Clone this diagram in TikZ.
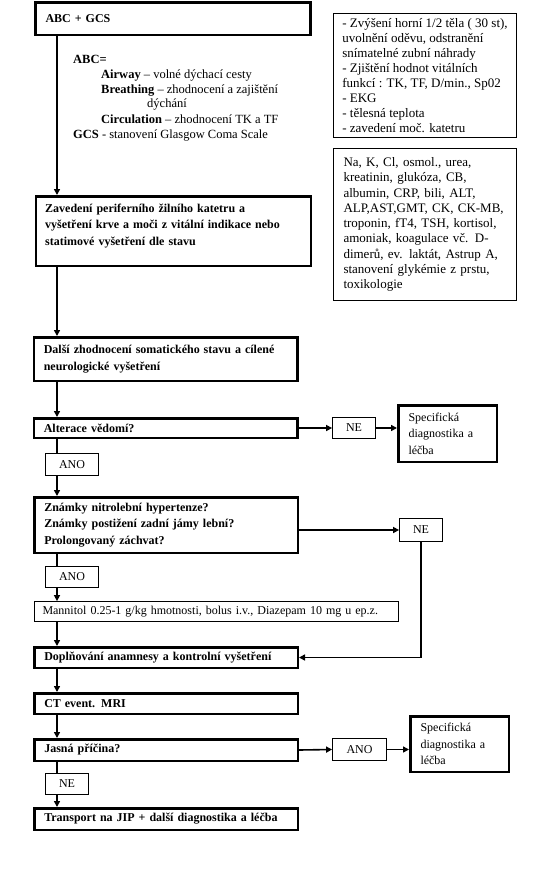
\documentclass[tikz,border=0pt]{standalone}
\usepackage{fontspec}
\setmainfont{Liberation Serif}
\usetikzlibrary{arrows.meta}
\begin{document}
\begin{tikzpicture}[x=1pt,y=-1pt,
  conn/.style={line width=1.6pt},
  arr/.style={conn,-{Triangle[length=6pt,width=6pt]}},
  thickbox/.style={draw,line width=2.5pt,rectangle,inner ysep=2pt,inner xsep=10pt,
    align=left,font=\fontsize{12}{16.5}\selectfont\bfseries},
  mainbox/.style={thickbox,minimum width=263.5pt,text width=243.5pt},
  widebox/.style={thickbox,minimum width=275pt,text width=255pt},
  thinbox/.style={draw,line width=0.8pt,rectangle,inner sep=1pt,
    font=\fontsize{12}{15}\selectfont},
  infobox/.style={thinbox,align=left,minimum width=183pt,font=\fontsize{13}{15}\selectfont},
  specbox/.style={draw,line width=2.5pt,rectangle,inner xsep=10pt,inner ysep=2pt,
    minimum width=98.5pt,text width=78pt,align=left,font=\fontsize{12}{16.5}\selectfont},
  freetext/.style={inner sep=0pt,align=left,font=\fontsize{12.5}{14.6}\selectfont}
]
\useasboundingbox (0,0) rectangle (543,887);
\coordinate (col) at (57,0);

% main column
\node[widebox,minimum height=32.5pt] (b1) at (173,18.5) {ABC + GCS};
\node[freetext,anchor=north west] (abc) at (73,55.5) {%
\textbf{ABC=}\\
\hspace*{28pt}\textbf{Airway} -- volné dýchací cesty\\
\hspace*{28pt}\textbf{Breathing} -- zhodnocení a zajištění\\
\hspace*{74pt}dýchání\\[1.5pt]
\hspace*{28pt}\textbf{Circulation} -- zhodnocení TK a TF\\
\textbf{GCS} - stanovení Glasgow Coma Scale};

\node[widebox,minimum height=69.5pt] (b2) at (173.5,231) {};
\node[inner sep=0pt,text width=255pt,align=left,anchor=north west,
  font=\fontsize{12}{16.5}\selectfont\bfseries] (b2t) at (45,203.5)
  {Zavedení periferního žilního katetru a\\
   vyšetření krve a moči z vitální indikace nebo\\
   statimové vyšetření dle stavu};

\node[mainbox,minimum height=43.5pt] (b3) at (165.5,359)
  {Další zhodnocení somatického stavu a cílené\\ neurologické vyšetření};
\node[mainbox,minimum height=19.5pt] (b4) at (165.5,428) {Alterace vědomí?};
\node[thinbox,minimum width=43pt,minimum height=21pt] (ne1) at (354,428) {NE};
\node[specbox,minimum height=56.5pt] (sp1) at (447.5,433.5)
  {Specifická\\ diagnostika a\\ léčba};
\node[thinbox,minimum width=53pt,minimum height=22pt] (ano1) at (72,464.5) {ANO};

\node[mainbox,minimum height=55.5pt] (b5) at (166,525)
  {Známky nitrolební hypertenze?\\ Známky postižení zadní jámy lební?\\ Prolongovaný záchvat?};
\node[thinbox,minimum width=43pt,minimum height=23pt] (ne2) at (421,530) {NE};
\node[thinbox,minimum width=53pt,minimum height=21pt] (ano2) at (72,577) {ANO};

\node[thinbox,minimum width=364pt,minimum height=20pt,inner xsep=8pt,
  text width=348pt,align=left] (man) at (216.5,611.5)
  {Mannitol 0.25-1 g/kg hmotnosti, bolus i.v., Diazepam 10 mg u ep.z.};
\node[mainbox,minimum height=20.5pt] (b7) at (166,657.5)
  {Doplňování anamnesy a kontrolní vyšetření};
\node[mainbox,minimum height=20.5pt] (b8) at (166,703.5) {CT event. MRI};
\node[mainbox,minimum height=21.5pt] (b9) at (166,750) {Jasná příčina?};
\node[thinbox,minimum width=54pt,minimum height=22pt] (ano3) at (359.5,749.5) {ANO};
\node[specbox,minimum height=55.5pt] (sp2) at (459.5,744)
  {Specifická\\ diagnostika a\\ léčba};
\node[thinbox,minimum width=43pt,minimum height=21pt] (ne3) at (67,784) {NE};
\node[mainbox,minimum height=21.5pt] (b10) at (166,819)
  {Transport na JIP + další diagnostika a léčba};

% right info boxes
\node[infobox,minimum height=124pt] (r1) at (425,75.5)
  {- Zvýšení horní 1/2 těla ( 30 st),\\
   uvolnění oděvu, odstranění\\
   snímatelné zubní náhrady\\
   - Zjištění hodnot vitálních\\
   funkcí : TK, TF, D/min., Sp02\\
   - EKG\\
   - tělesná teplota\\
   - zavedení moč. katetru};
\node[infobox,minimum height=152pt,inner xsep=9.5pt,text width=163pt,
  font=\fontsize{13}{15.25}\selectfont] (r2) at (425,224.5)
  {Na, K, Cl, osmol., urea,\\
   kreatinin, glukóza, CB,\\
   albumin, CRP, bili, ALT,\\
   ALP,AST,GMT, CK, CK-MB,\\
   troponin, fT4, TSH, kortisol,\\
   amoniak, koagulace vč. D-\\
   dimerů, ev. laktát, Astrup A,\\
   stanovení glykémie z prstu,\\
   toxikologie};

% connectors
\draw[arr] (b1.south -| col) -- (b2.north -| col);
\draw[arr] (b2.south -| col) -- (b3.north -| col);
\draw[arr] (b3.south -| col) -- (b4.north -| col);
\draw[conn] (b4.south -| col) -- (ano1.north -| col);
\draw[arr] (ano1.south -| col) -- (b5.north -| col);
\draw[conn] (b5.south -| col) -- (ano2.north -| col);
\draw[arr] (ano2.south -| col) -- (man.north -| col);
\draw[arr] (man.south -| col) -- (b7.north -| col);
\draw[arr] (b7.south -| col) -- (b8.north -| col);
\draw[arr] (b8.south -| col) -- (b9.north -| col);
\draw[conn] (b9.south -| col) -- (ne3.north -| col);
\draw[arr] (ne3.south -| col) -- (b10.north -| col);

\draw[arr] (b4.east) -- (ne1.west);
\draw[arr] (ne1.east) -- (ne1.east -| sp1.west);
\draw[arr] (ne2.west -| b5.east) -- (ne2.west);
\draw[arr] (ne2.south) -- (ne2.south |- b7.east) -- (b7.east);
\draw[arr] (b9.east) -- (ano3.west);
\draw[arr] (ano3.east) -- (ano3.east -| sp2.west);
\end{tikzpicture}
\end{document}
